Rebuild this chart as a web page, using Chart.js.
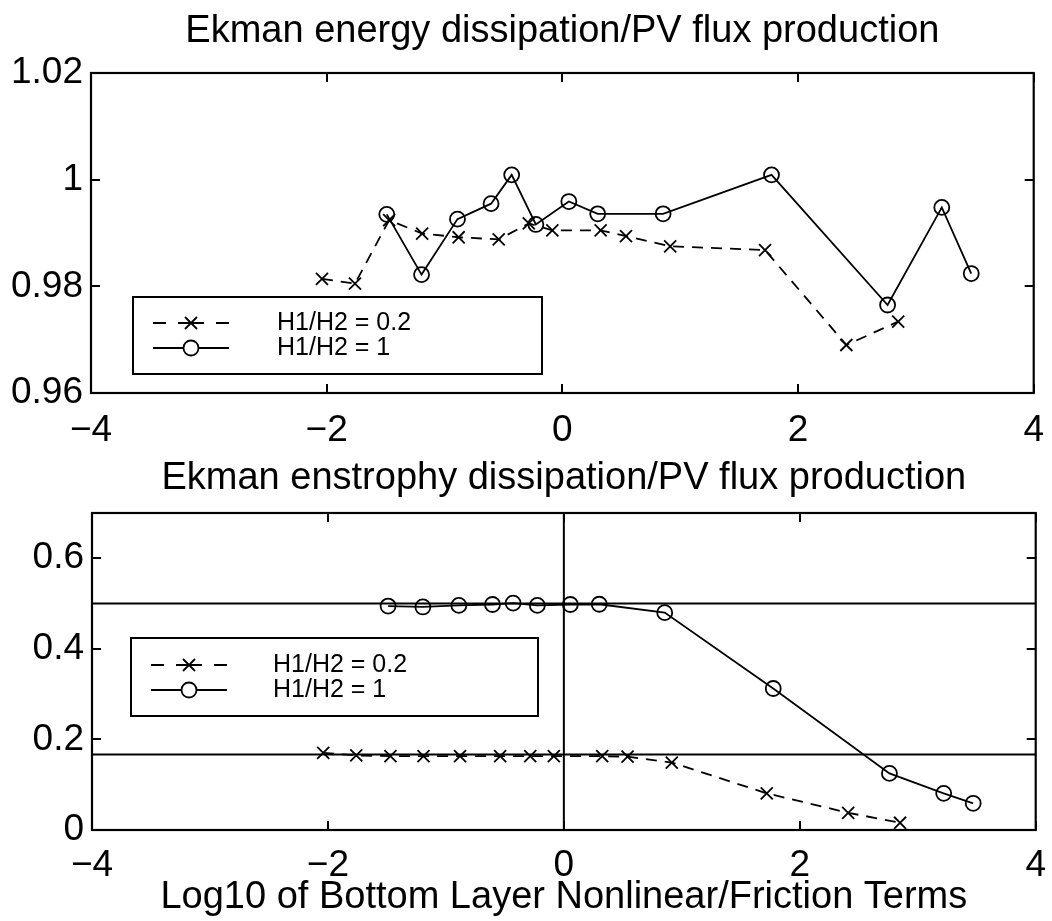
<!doctype html>
<html>

<head>
  <title>Ekman dissipation ratios</title>
</head>
<style>
  body {
    margin: 0;
    background: #fff;
    font-family: "Liberation Sans", Arial, sans-serif;
  }

  .plotBox {
    position: absolute;
    left: 0;
  }
</style>

<body>
  <div class="plotBox" style="top: 0px;">
    <canvas id="energyPlotId" width="1052" height="452"></canvas>
  </div>
  <div class="plotBox" style="top: 440px;">
    <canvas id="enstrophyPlotId" width="1052" height="481"></canvas>
  </div>
  <script src="https://cdn.jsdelivr.net/npm/chart.js@4/dist/chart.umd.min.js"></script>
  <script>
    // log10 of nonlinear/friction ratio for each run
    var xShallow = [-2.04, -1.76, -1.47, -1.19, -0.88, -0.54, -0.285, -0.085, 0.325, 0.54, 0.915, 1.72, 2.41, 2.85];
    var xEqual = [-1.49, -1.195, -0.89, -0.605, -0.43, -0.225, 0.055, 0.30, 0.855, 1.775, 2.76, 3.22, 3.47];

    // energy dissipation / PV flux production
    var energyShallow = [0.9814, 0.9805, 0.9924, 0.9899, 0.9892, 0.9888, 0.9918, 0.9905, 0.9905, 0.9894, 0.9875, 0.9868, 0.9690, 0.9734];
    var energyEqual = [0.9935, 0.9822, 0.9926, 0.9955, 1.0009, 0.9916, 0.9959, 0.9936, 0.9936, 1.0009, 0.9765, 0.9948, 0.9824];

    // enstrophy dissipation / PV flux production
    var enstrophyShallow = [0.1705, 0.1647, 0.163, 0.163, 0.163, 0.163, 0.163, 0.163, 0.163, 0.162, 0.149, 0.081, 0.038, 0.016];
    var enstrophyEqual = [0.4945, 0.4925, 0.496, 0.498, 0.501, 0.496, 0.498, 0.4985, 0.480, 0.3125, 0.125, 0.081, 0.059];

    // theoretical levels drawn across the lower panel
    var enstrophyLevels = [0.5, 1 / 6];

    var seriesNames = ["H1/H2 = 0.2", "H1/H2 = 1"];

    var xTicks = [-4, -2, 0, 2, 4];
    var xTickLabels = ["\u22124", "\u22122", "0", "2", "4"];
    var energyTicks = [0.96, 0.98, 1, 1.02];
    var energyTickLabels = ["0.96", "0.98", "1", "1.02"];
    var enstrophyTicks = [0, 0.2, 0.4, 0.6];
    var enstrophyTickLabels = ["0", "0.2", "0.4", "0.6"];

    var fontFamily = "'Liberation Sans', Arial, sans-serif";
    var lineW = 1.8;

    function points(xs, ys) {
      return xs.map(function (x, i) { return { x: x, y: ys[i] }; });
    }

    function shallowSet(ys) {
      return {
        label: seriesNames[0],
        data: points(xShallow, ys),
        showLine: true,
        borderColor: "#000",
        borderWidth: lineW,
        borderDash: [11, 8],
        pointStyle: "crossRot",
        pointRadius: 8.5,
        pointBorderWidth: lineW,
        pointBorderColor: "#000"
      };
    }

    function equalSet(ys) {
      return {
        label: seriesNames[1],
        data: points(xEqual, ys),
        showLine: true,
        borderColor: "#000",
        borderWidth: lineW,
        pointStyle: "circle",
        pointRadius: 7.5,
        pointBorderWidth: lineW,
        pointBorderColor: "#000",
        pointBackgroundColor: "rgba(0,0,0,0)"
      };
    }

    function guideSet(data) {
      return {
        label: "",
        guide: true,
        data: data,
        showLine: true,
        borderColor: "#000",
        borderWidth: 2,
        pointRadius: 0
      };
    }

    // box around the axes with inward ticks on all four sides
    var boxAxes = {
      id: "boxAxes",
      afterDatasetsDraw: function (chart) {
        var ctx = chart.ctx, ca = chart.chartArea;
        var xs = chart.scales.x, ys = chart.scales.y;
        var len = 9;
        ctx.save();
        ctx.strokeStyle = "#000";
        ctx.lineWidth = 2;
        xs.ticks.forEach(function (t) {
          var px = Math.round(xs.getPixelForValue(t.value));
          ctx.beginPath();
          ctx.moveTo(px, ca.bottom); ctx.lineTo(px, ca.bottom - len);
          ctx.moveTo(px, ca.top); ctx.lineTo(px, ca.top + len);
          ctx.stroke();
        });
        ys.ticks.forEach(function (t) {
          var py = Math.round(ys.getPixelForValue(t.value));
          ctx.beginPath();
          ctx.moveTo(ca.left, py); ctx.lineTo(ca.left + len, py);
          ctx.moveTo(ca.right, py); ctx.lineTo(ca.right - len, py);
          ctx.stroke();
        });
        ctx.lineWidth = 2.2;
        ctx.strokeRect(ca.left, ca.top, ca.right - ca.left, ca.bottom - ca.top);
        ctx.restore();
      }
    };

    // legend box inside the axes, sample line with its marker then the name
    var innerLegend = {
      id: "innerLegend",
      afterDraw: function (chart, args, opts) {
        var ctx = chart.ctx, ca = chart.chartArea;
        var left = ca.left + opts.left, top = ca.top + opts.top;
        ctx.save();
        ctx.fillStyle = "#fff";
        ctx.fillRect(left, top, opts.width, opts.height);
        ctx.strokeStyle = "#000";
        ctx.lineWidth = 2;
        ctx.strokeRect(left, top, opts.width, opts.height);
        chart.data.datasets.forEach(function (ds, i) {
          if (ds.guide) return;
          var y = top + opts.rows[i];
          var x0 = left + 20, x1 = left + 96, xm = (x0 + x1) / 2;
          ctx.lineWidth = ds.borderWidth;
          ctx.setLineDash([]);
          ctx.beginPath();
          if (ds.borderDash) {
            ctx.moveTo(x0, y); ctx.lineTo(x0 + 13, y);
            ctx.moveTo(x1 - 13, y); ctx.lineTo(x1, y);
            ctx.moveTo(xm - 13, y); ctx.lineTo(xm + 13, y);
          } else {
            ctx.moveTo(x0, y); ctx.lineTo(x1, y);
          }
          ctx.stroke();
          Chart.helpers.drawPoint(ctx, {
            pointStyle: ds.pointStyle,
            radius: ds.pointRadius,
            borderWidth: ds.pointBorderWidth,
            rotation: 0
          }, xm, y);
          ctx.fillStyle = "#000";
          ctx.font = "25px " + fontFamily;
          ctx.textBaseline = "middle";
          ctx.textAlign = "left";
          ctx.fillText(ds.label, left + opts.textX, y);
          ctx.fillStyle = "#fff";
        });
        ctx.restore();
      }
    };

    function makeChart(id, cfg) {
      var ctx = document.getElementById(id).getContext("2d");
      return new Chart(ctx, {
        type: "scatter",
        data: { datasets: cfg.datasets },
        plugins: [boxAxes, innerLegend],
        options: {
          responsive: false,
          animation: false,
          devicePixelRatio: 1,
          layout: { padding: { left: 0, right: cfg.padRight, top: 0, bottom: 0 } },
          plugins: {
            legend: { display: false },
            tooltip: { enabled: false },
            title: {
              display: true,
              text: cfg.title,
              fullSize: false,
              color: "#000",
              font: { family: fontFamily, size: 38, weight: "normal" },
              padding: cfg.titlePad
            },
            innerLegend: cfg.legend
          },
          scales: {
            x: {
              type: "linear",
              min: -4,
              max: 4,
              afterBuildTicks: function (s) {
                s.ticks = xTicks.map(function (v) { return { value: v }; });
              },
              afterFit: function (s) { s.height = cfg.xHeight; },
              ticks: {
                color: "#000",
                padding: cfg.xTickPad,
                maxRotation: 0,
                font: { family: fontFamily, size: 37 },
                callback: function (v) { return xTickLabels[xTicks.indexOf(v)]; }
              },
              title: cfg.xTitle,
              grid: { display: false },
              border: { display: false }
            },
            y: {
              type: "linear",
              min: cfg.yMin,
              max: cfg.yMax,
              afterBuildTicks: function (s) {
                s.ticks = cfg.yTicks.map(function (v) { return { value: v }; });
              },
              afterFit: function (s) { s.width = cfg.yWidth; },
              ticks: {
                color: "#000",
                padding: 0,
                font: { family: fontFamily, size: 37 },
                callback: function (v) { return cfg.yTickLabels[cfg.yTicks.indexOf(v)]; }
              },
              grid: { display: false },
              border: { display: false }
            }
          }
        }
      });
    }

    makeChart("energyPlotId", {
      title: "Ekman energy dissipation/PV flux production",
      titlePad: { top: 9, bottom: 18.4 },
      datasets: [shallowSet(energyShallow), equalSet(energyEqual)],
      yMin: 0.96,
      yMax: 1.02,
      yTicks: energyTicks,
      yTickLabels: energyTickLabels,
      yWidth: 91,
      padRight: 14,
      xHeight: 59,
      xTickPad: 8,
      xTitle: { display: false },
      legend: { left: 42, top: 224, width: 409, height: 77, rows: [26, 51], textX: 144 }
    });

    makeChart("enstrophyPlotId", {
      title: "Ekman enstrophy dissipation/PV flux production",
      titlePad: { top: 16, bottom: 11.4 },
      datasets: [
        shallowSet(enstrophyShallow),
        equalSet(enstrophyEqual),
        guideSet([{ x: -4, y: enstrophyLevels[0] }, { x: 4, y: enstrophyLevels[0] }]),
        guideSet([{ x: -4, y: enstrophyLevels[1] }, { x: 4, y: enstrophyLevels[1] }]),
        guideSet([{ x: 0, y: 0 }, { x: 0, y: 0.7 }])
      ],
      yMin: 0,
      yMax: 0.7,
      yTicks: enstrophyTicks,
      yTickLabels: enstrophyTickLabels,
      yWidth: 92,
      padRight: 13,
      xHeight: 91,
      xTickPad: 6,
      xTitle: {
        display: true,
        text: "Log10 of Bottom Layer Nonlinear/Friction Terms",
        color: "#000",
        font: { family: fontFamily, size: 38 },
        padding: { top: 0, bottom: 1 }
      },
      legend: { left: 39, top: 125, width: 407, height: 78, rows: [27, 52], textX: 142 }
    });
  </script>
</body>

</html>
